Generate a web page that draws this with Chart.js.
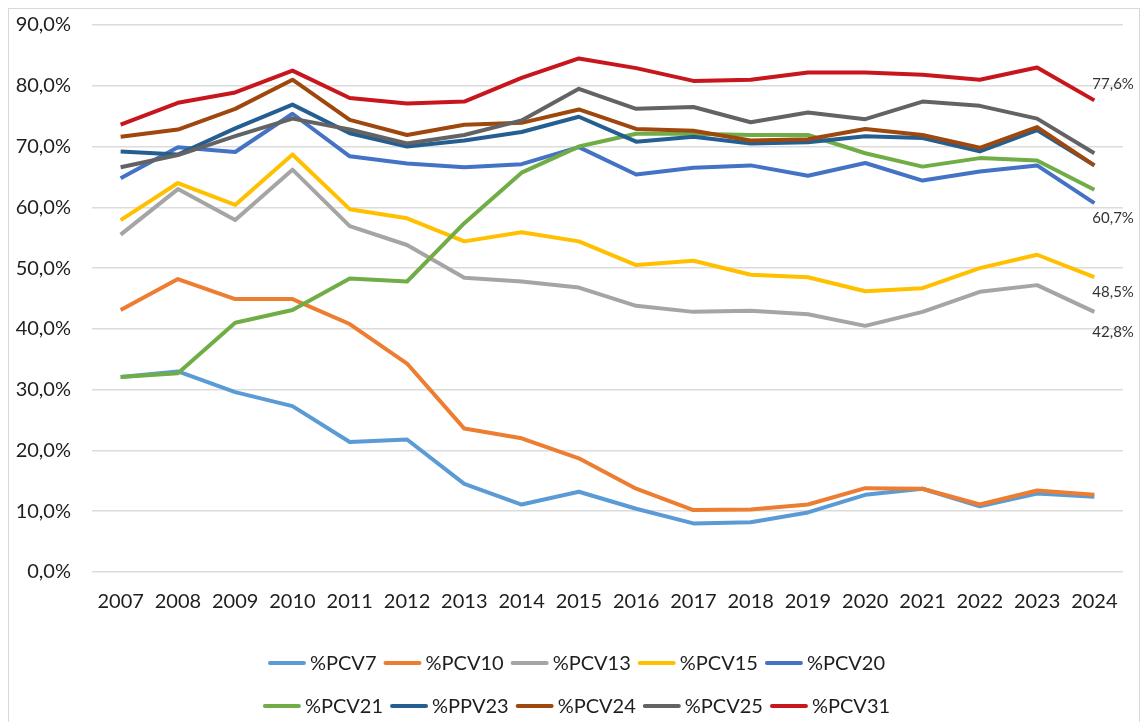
<!DOCTYPE html>
<html>
<head>
<meta charset="utf-8">
<script src="https://cdn.jsdelivr.net/npm/chart.js@4.4.1/dist/chart.umd.min.js"></script>
<style>
  html, body { margin: 0; padding: 0; background: #fff; overflow: hidden; }
  #wrap { position: relative; width: 1141px; height: 722px; }
  #frame {
    position: absolute; left: 8px; top: 8px; width: 1132px; height: 800px;
    box-sizing: border-box; border: 1px solid #d9d9d9; pointer-events: none;
  }
</style>
</head>
<body>
<div id="wrap">
  <canvas id="canvas" width="1141" height="722"></canvas>
  <div id="frame"></div>
</div>
<script>
const years = ["2007", "2008", "2009", "2010", "2011", "2012", "2013", "2014", "2015",
  "2016", "2017", "2018", "2019", "2020", "2021", "2022", "2023", "2024"];

const yTicks = [0, 10, 20, 30, 40, 50, 60, 70, 80, 90];

const pcv7 = [32.1, 33.0, 29.6, 27.3, 21.4, 21.8, 14.5, 11.1, 13.2, 10.4, 8.0, 8.2, 9.8, 12.7, 13.7, 10.8, 12.9, 12.4];
const pcv10 = [43.1, 48.2, 44.9, 44.9, 40.8, 34.3, 23.6, 22.0, 18.7, 13.7, 10.2, 10.3, 11.1, 13.8, 13.7, 11.1, 13.4, 12.7];
const pcv13 = [55.5, 63.0, 57.9, 66.2, 56.9, 53.8, 48.4, 47.8, 46.8, 43.8, 42.8, 43.0, 42.4, 40.5, 42.8, 46.1, 47.2, 42.8];
const pcv15 = [57.9, 64.0, 60.4, 68.7, 59.7, 58.2, 54.4, 55.9, 54.4, 50.5, 51.2, 48.9, 48.5, 46.2, 46.7, 50.0, 52.2, 48.5];
const pcv20 = [64.8, 69.9, 69.1, 75.4, 68.4, 67.2, 66.6, 67.1, 69.9, 65.4, 66.5, 66.9, 65.2, 67.3, 64.4, 65.9, 66.9, 60.7];
const pcv21 = [32.1, 32.7, 41.0, 43.1, 48.3, 47.8, 57.4, 65.7, 70.0, 72.1, 72.1, 71.9, 71.9, 68.9, 66.7, 68.1, 67.7, 62.9];
const ppv23 = [69.2, 68.7, 73.0, 76.9, 72.2, 70.0, 71.0, 72.4, 74.9, 70.8, 71.6, 70.5, 70.7, 71.7, 71.4, 69.2, 72.7, 66.9];
const pcv24 = [71.6, 72.8, 76.2, 81.0, 74.4, 71.9, 73.6, 73.9, 76.1, 72.9, 72.6, 71.0, 71.2, 72.9, 71.9, 69.8, 73.2, 66.9];
const pcv25 = [66.6, 68.6, 71.7, 74.6, 72.8, 70.5, 71.9, 74.3, 79.5, 76.2, 76.5, 74.0, 75.6, 74.5, 77.4, 76.7, 74.6, 68.9];
const pcv31 = [73.6, 77.2, 78.9, 82.5, 78.0, 77.1, 77.4, 81.3, 84.5, 82.9, 80.8, 81.0, 82.2, 82.2, 81.8, 81.0, 83.0, 77.6];

const seriesNames = ["%PCV7", "%PCV10", "%PCV13", "%PCV15", "%PCV20",
  "%PCV21", "%PPV23", "%PCV24", "%PCV25", "%PCV31"];
const seriesData = [pcv7, pcv10, pcv13, pcv15, pcv20, pcv21, ppv23, pcv24, pcv25, pcv31];
const colors = ["#5B9BD5", "#ED7D31", "#A5A5A5", "#FFC000", "#4472C4",
  "#70AD47", "#255E91", "#9E480E", "#636363", "#C8161D"];

const FONT = "Lato";
const TEXT = "#1e1e1e";

function pct(v) {
  return v.toFixed(1).replace(".", ",") + "%";
}

// labels next to the last point of a few series
const endLabels = [
  { ds: 9, dy: -16 },
  { ds: 4, dy: 15 },
  { ds: 3, dy: 15 },
  { ds: 2, dy: 20 },
];

const endLabelPlugin = {
  id: "endLabels",
  afterDatasetsDraw(chart) {
    const ctx = chart.ctx;
    ctx.save();
    ctx.font = "15px " + FONT;
    ctx.fillStyle = "#333333";
    ctx.textAlign = "left";
    ctx.textBaseline = "middle";
    endLabels.forEach((l) => {
      const meta = chart.getDatasetMeta(l.ds);
      const pt = meta.data[meta.data.length - 1];
      const v = chart.data.datasets[l.ds].data[meta.data.length - 1];
      ctx.fillText(pct(v), pt.x - 2, pt.y + l.dy);
    });
    ctx.restore();
  },
};

// two-row legend like the Excel one
const legendRows = {
  id: "legendRows",
  afterDraw(chart) {
    const ctx = chart.ctx;
    const rowY = [663, 706];
    const lineW = 38, gap = 4, spacing = 7;
    ctx.save();
    ctx.font = "20px " + FONT;
    ctx.textBaseline = "middle";
    ctx.textAlign = "left";
    const sets = chart.data.datasets;
    for (let r = 0; r < 2; r++) {
      const items = sets.slice(r * 5, r * 5 + 5);
      const widths = items.map((d) => lineW + gap + ctx.measureText(d.label).width);
      const total = widths.reduce((a, b) => a + b, 0) + spacing * (items.length - 1);
      let x = (chart.width - total) / 2 + 6;
      items.forEach((d, i) => {
        ctx.strokeStyle = d.borderColor;
        ctx.lineWidth = 4;
        ctx.lineCap = "round";
        ctx.beginPath();
        ctx.moveTo(x + 2, rowY[r]);
        ctx.lineTo(x + lineW - 2, rowY[r]);
        ctx.stroke();
        ctx.fillStyle = TEXT;
        ctx.fillText(d.label, x + lineW + gap, rowY[r] + 1);
        x += widths[i] + spacing;
      });
    }
    ctx.restore();
  },
};

const datasets = seriesNames.map((name, i) => ({
  label: name,
  data: seriesData[i],
  borderColor: colors[i],
  backgroundColor: colors[i],
  borderWidth: 4,
  pointRadius: 0,
  tension: 0,
  borderJoinStyle: "round",
  order: seriesNames.length - 1 - i,
}));

const config = {
  type: "line",
  data: { labels: years, datasets: datasets },
  options: {
    responsive: false,
    animation: false,
    layout: { padding: { left: 14, right: 18, top: 25, bottom: 98 } },
    plugins: {
      legend: { display: false },
      tooltip: { enabled: false },
    },
    scales: {
      x: {
        offset: true,
        grid: { display: false },
        border: { display: false },
        ticks: {
          color: TEXT,
          font: { family: FONT, size: 20 },
          padding: 10,
          maxRotation: 0,
          autoSkip: false,
        },
      },
      y: {
        min: yTicks[0],
        max: yTicks[yTicks.length - 1],
        afterBuildTicks: (axis) => {
          axis.ticks = yTicks.map((v) => ({ value: v }));
        },
        afterFit: (axis) => {
          axis.width = 78;
          axis.paddingTop = 10;
          axis.paddingBottom = 10;
        },
        grid: { color: "#dcdcdc", lineWidth: 1.5, drawTicks: false },
        border: { display: false },
        ticks: {
          color: TEXT,
          font: { family: FONT, size: 20 },
          padding: 21,
          callback: (v) => pct(v),
        },
      },
    },
  },
  plugins: [endLabelPlugin, legendRows],
};

window.onload = function () {
  const ctx = document.getElementById("canvas").getContext("2d");
  new Chart(ctx, config);
};
</script>
</body>
</html>
